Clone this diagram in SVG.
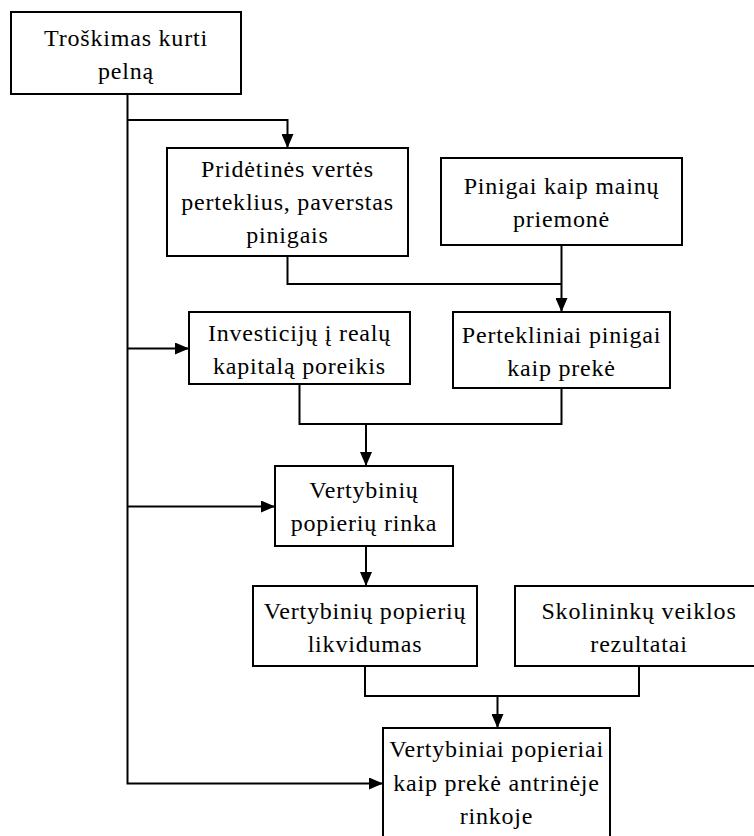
<svg xmlns="http://www.w3.org/2000/svg" width="754" height="836" viewBox="0 0 754 836">
  <style>
    .box { fill: #ffffff; stroke: #000000; stroke-width: 2; }
    .lbl { font-family: "Liberation Serif", "Times New Roman", serif; font-size: 24px; letter-spacing: 0.8px; fill: #000000; text-anchor: middle; }
    .wire { fill: none; stroke: #000000; stroke-width: 2; }
    .arrow { marker-end: url(#head); }
  </style>
  <defs>
    <marker id="head" markerUnits="userSpaceOnUse" markerWidth="14" markerHeight="12" refX="14" refY="6" orient="auto">
      <path d="M0,0 L14,6 L0,12 Z" fill="#000000"/>
    </marker>
  </defs>
  <rect width="754" height="836" fill="#ffffff"/>

  <g id="connectors">
    <path class="wire arrow" d="M127.5,94 V783.5 H383"/>
    <path class="wire arrow" d="M127.5,120 H287.5 V148"/>
    <path class="wire arrow" d="M127.5,348.5 H189"/>
    <path class="wire arrow" d="M127.5,506.5 H275"/>
    <path class="wire" d="M287.5,256 V284 H561.5"/>
    <path class="wire arrow" d="M561.5,245 V312"/>
    <path class="wire" d="M299.5,384 V424 H561.5 V388"/>
    <path class="wire arrow" d="M366,424 V466"/>
    <path class="wire arrow" d="M366,546 V586"/>
    <path class="wire" d="M365,666 V696 H639 V666"/>
    <path class="wire arrow" d="M497.5,696 V728"/>
  </g>

  <g id="node-troskimas">
    <rect class="box" x="11" y="12" width="230" height="82"/>
    <text class="lbl" x="126" y="45.5">Troškimas kurti</text>
    <text class="lbl" x="126" y="78.5">pelną</text>
  </g>

  <g id="node-pridetines">
    <rect class="box" x="167" y="148" width="241" height="108"/>
    <text class="lbl" x="287.5" y="177">Pridėtinės vertės</text>
    <text class="lbl" x="287.5" y="210">perteklius, paverstas</text>
    <text class="lbl" x="287.5" y="243">pinigais</text>
  </g>

  <g id="node-pinigai">
    <rect class="box" x="441" y="158" width="241" height="87"/>
    <text class="lbl" x="561.5" y="194">Pinigai kaip mainų</text>
    <text class="lbl" x="561.5" y="227">priemonė</text>
  </g>

  <g id="node-investiciju">
    <rect class="box" x="189" y="312" width="221" height="72"/>
    <text class="lbl" x="299.5" y="340.5">Investicijų į realų</text>
    <text class="lbl" x="299.5" y="373.5">kapitalą poreikis</text>
  </g>

  <g id="node-pertekliniai">
    <rect class="box" x="453" y="312" width="217" height="76"/>
    <text class="lbl" x="561.5" y="342.5">Pertekliniai pinigai</text>
    <text class="lbl" x="561.5" y="375.5">kaip prekė</text>
  </g>

  <g id="node-rinka">
    <rect class="box" x="275" y="466" width="178" height="80"/>
    <text class="lbl" x="364" y="498">Vertybinių</text>
    <text class="lbl" x="364" y="531">popierių rinka</text>
  </g>

  <g id="node-likvidumas">
    <rect class="box" x="253" y="586" width="224" height="80"/>
    <text class="lbl" x="365" y="619">Vertybinių popierių</text>
    <text class="lbl" x="365" y="652">likvidumas</text>
  </g>

  <g id="node-skolininku">
    <rect class="box" x="515" y="586" width="248" height="80"/>
    <text class="lbl" x="639" y="619">Skolininkų veiklos</text>
    <text class="lbl" x="639" y="652">rezultatai</text>
  </g>

  <g id="node-antrine">
    <rect class="box" x="383" y="728" width="227" height="112"/>
    <text class="lbl" x="496.5" y="757">Vertybiniai popieriai</text>
    <text class="lbl" x="496.5" y="791">kaip prekė antrinėje</text>
    <text class="lbl" x="496.5" y="824">rinkoje</text>
  </g>
</svg>
